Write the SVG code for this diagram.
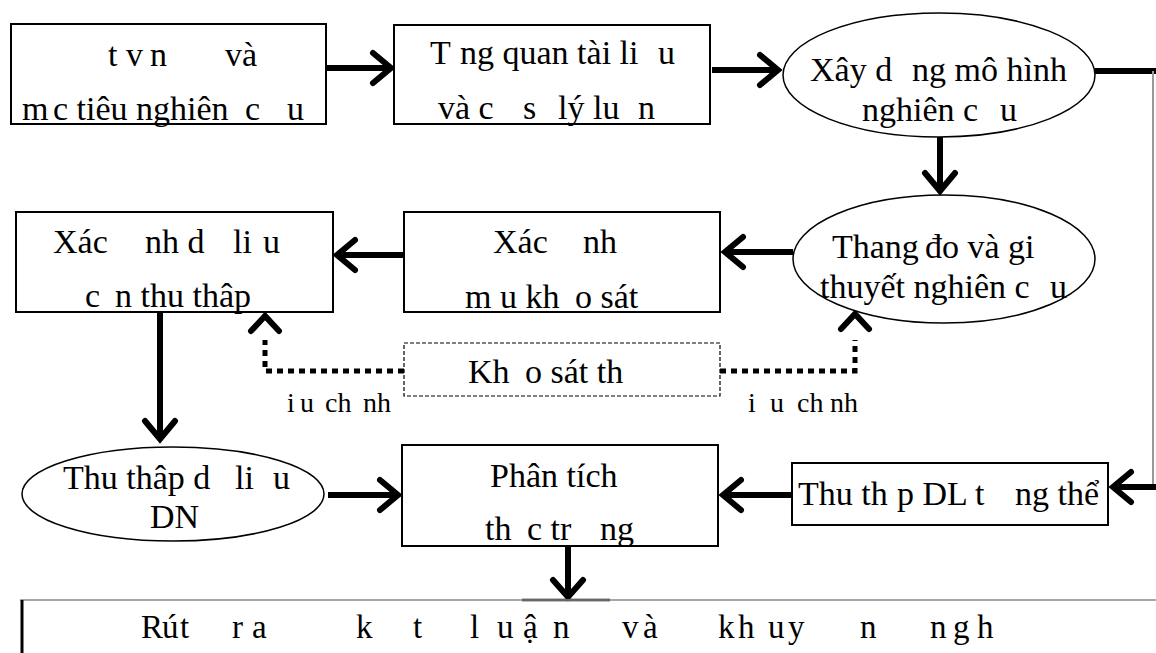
<svg xmlns="http://www.w3.org/2000/svg" width="1156" height="653" viewBox="0 0 1156 653">
<style>
.t{font-family:"Liberation Serif","Times New Roman",serif;font-size:34px;fill:#000}
.s{font-family:"Liberation Serif","Times New Roman",serif;font-size:28px;fill:#000}
.b{font-family:"Liberation Serif","Times New Roman",serif;font-size:33px;fill:#000}
.box{fill:#fff;stroke:#000;stroke-width:2}
.ell{fill:#fff;stroke:#000;stroke-width:1.5}
.dash{fill:#fff;stroke:#000;stroke-width:1.2;stroke-dasharray:4 2}
.ln{fill:none;stroke:#000;stroke-width:6}
.hd{fill:none;stroke:#000;stroke-width:6;stroke-linecap:round;stroke-linejoin:miter}
.dot{fill:none;stroke:#000;stroke-width:5;stroke-dasharray:6 5}
</style>
<rect width="1156" height="653" fill="#fff"/>
<g id="connectors">
<line class="ln" x1="326" y1="68" x2="390" y2="68"/>
<polyline class="hd" points="373,53 391,68 373,83"/>
<line class="ln" x1="712" y1="70" x2="776" y2="70"/>
<polyline class="hd" points="760,55 778,70 760,85"/>
<line class="ln" x1="940" y1="137" x2="940" y2="190"/>
<polyline class="hd" points="925,173 940,191 955,173"/>
<line class="ln" x1="1095" y1="71" x2="1156" y2="71"/>
<line x1="1153" y1="71" x2="1153" y2="487" stroke="#999" stroke-width="2"/>
<line class="ln" x1="1156" y1="487" x2="1114" y2="487"/>
<polyline class="hd" points="1131,472 1113,487 1131,502"/>
<line class="ln" x1="793" y1="252" x2="726" y2="252"/>
<polyline class="hd" points="743,237 725,252 743,267"/>
<line class="ln" x1="403" y1="255" x2="338" y2="255"/>
<polyline class="hd" points="355,240 337,255 355,270"/>
<line class="ln" x1="160" y1="312" x2="160" y2="438"/>
<polyline class="hd" points="145,421 160,439 175,421"/>
<line class="ln" x1="328" y1="495" x2="396" y2="495"/>
<polyline class="hd" points="380,480 398,495 380,510"/>
<line class="ln" x1="792" y1="495" x2="724" y2="495"/>
<polyline class="hd" points="741,480 723,495 741,510"/>
<line class="ln" x1="568" y1="546" x2="568" y2="596"/>
<polyline class="hd" points="553,580 568,597 583,580"/>
<line x1="522" y1="600" x2="610" y2="600" stroke="#000" stroke-width="2.5"/>
<path class="dot" d="M404,371 H265 V340"/>
<polyline class="hd" points="251,331 265,316 279,331"/>
<path class="dot" d="M720,371 H855 V340"/>
<polyline class="hd" points="841,329 855,314 869,329"/>
</g>
<g id="n1">
<rect class="box" x="11" y="24" width="315" height="100"/>
<text class="t" y="66"><tspan x="108">t v</tspan><tspan x="150">n</tspan><tspan x="225">và</tspan></text>
<text class="t" y="120"><tspan x="22">m</tspan><tspan x="53">c tiêu nghiên</tspan><tspan x="245">c</tspan><tspan x="287">u</tspan></text>
</g>
<g id="n2">
<rect class="box" x="394" y="25" width="316" height="99"/>
<text class="t" y="64"><tspan x="430">T</tspan><tspan x="460">ng quan tài li</tspan><tspan x="658">u</tspan></text>
<text class="t" y="119"><tspan x="438">và c</tspan><tspan x="523">s</tspan><tspan x="558">lý lu</tspan><tspan x="638">n</tspan></text>
</g>
<g id="n3">
<ellipse class="ell" cx="939" cy="75" rx="156" ry="62"/>
<text class="t" y="81"><tspan x="810">Xây d</tspan><tspan x="912">ng mô hình</tspan></text>
<text class="t" y="121"><tspan x="862">nghiên c</tspan><tspan x="1000">u</tspan></text>
</g>
<g id="n4">
<ellipse class="ell" cx="944" cy="259" rx="151" ry="64"/>
<text class="t" y="258"><tspan x="832">Thang</tspan><tspan x="925">đo và gi</tspan></text>
<text class="t" y="298"><tspan x="820">thuyết nghiên c</tspan><tspan x="1050">u</tspan></text>
</g>
<g id="n5">
<rect class="box" x="404" y="212" width="316" height="100"/>
<text class="t" y="253"><tspan x="493">Xác</tspan><tspan x="583">nh</tspan></text>
<text class="t" y="308"><tspan x="465">m</tspan><tspan x="500">u kh</tspan><tspan x="575">o sát</tspan></text>
</g>
<g id="n6">
<rect class="box" x="16" y="212" width="317" height="100"/>
<text class="t" y="253"><tspan x="53">Xác</tspan><tspan x="145">nh d</tspan><tspan x="233">li</tspan><tspan x="263">u</tspan></text>
<text class="t" y="307"><tspan x="85">c</tspan><tspan x="115">n thu thâp</tspan></text>
</g>
<g id="n7">
<rect class="dash" x="404" y="343" width="316" height="53"/>
<text class="t" y="383"><tspan x="468">Kh</tspan><tspan x="525">o sát th</tspan></text>
</g>
<g id="lbl1">
<text class="s" y="412"><tspan x="287">i</tspan><tspan x="300">u</tspan><tspan x="325">ch</tspan><tspan x="363">nh</tspan></text>
</g>
<g id="lbl2">
<text class="s" y="412"><tspan x="748">i</tspan><tspan x="770">u</tspan><tspan x="797">ch</tspan><tspan x="830">nh</tspan></text>
</g>
<g id="n8">
<ellipse class="ell" cx="173" cy="494" rx="151" ry="47"/>
<text class="t" y="489"><tspan x="63">Thu thâp d</tspan><tspan x="235">li</tspan><tspan x="273">u</tspan></text>
<text class="t" x="150" y="528">DN</text>
</g>
<g id="n9">
<rect class="box" x="402" y="445" width="316" height="101"/>
<text class="t" x="490" y="487">Phân tích</text>
<text class="t" y="540"><tspan x="485">th</tspan><tspan x="527">c tr</tspan><tspan x="600">ng</tspan></text>
</g>
<g id="n10">
<rect class="box" x="792" y="463" width="316" height="62"/>
<text class="t" y="505"><tspan x="798">Thu th</tspan><tspan x="897">p DL t</tspan><tspan x="1015">ng thể</tspan></text>
</g>
<g id="n11">
<line x1="20" y1="600" x2="1156" y2="600" stroke="#888" stroke-width="1.5"/>
<line x1="22" y1="600" x2="22" y2="653" stroke="#000" stroke-width="3"/>
<text class="b" y="638" x="141 162 180 232 252 356 413 470 497 523 553 622 643 718 738 768 788 860 930 953 977">Rútraktluậnvàkhuynngh</text>
</g>
</svg>
